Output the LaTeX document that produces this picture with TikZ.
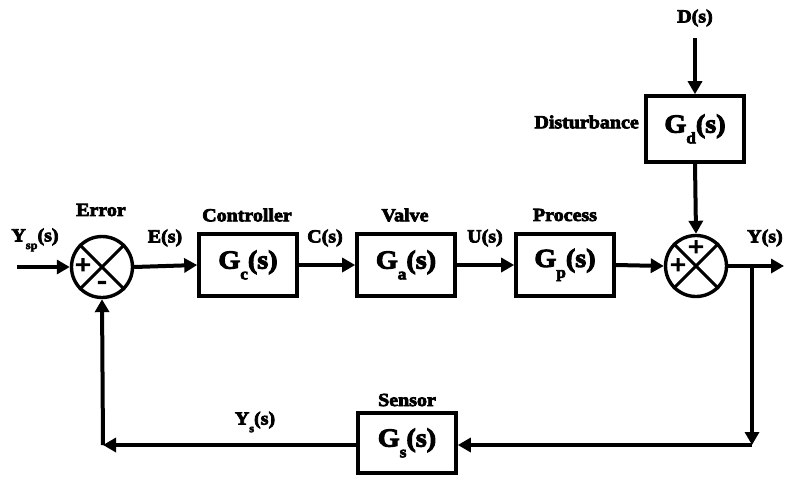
\documentclass[tikz,border=0pt]{standalone}
\usepackage{fontspec}
\setmainfont{Liberation Serif}[BoldFeatures={FakeStretch=1.08,FakeBold=4}]
\usetikzlibrary{arrows.meta}
\newcommand\labfont{\fontsize{18.5}{19}\selectfont\bfseries}
\newcommand\blkfont{\fontsize{26}{27}\selectfont\bfseries}
\newcommand\sbx[1]{\raisebox{-0.9ex}{\scalebox{0.62}{#1}}}
\tikzset{
  blk/.style={draw, line width=3.6pt, minimum width=98pt, minimum height=62pt, inner sep=0pt, font=\blkfont},
  sumj/.style={draw, circle, line width=3.4pt, minimum size=61pt, inner sep=0pt},
  lbl/.style={font=\labfont, inner sep=0pt},
  conn/.style={line width=4pt, -{Triangle[length=13pt,width=14pt]}},
  sgn/.style={font=\fontsize{26}{27}\selectfont\bfseries, inner sep=0pt}
}
\begin{document}
\begin{tikzpicture}[x=1pt,y=-1pt]
\useasboundingbox (0,0) rectangle (786,479);
% summing junctions
\node[sumj] (s1) at (102,267) {};
\draw[line width=3pt] (s1.north west) -- (s1.south east) (s1.north east) -- (s1.south west);
\node[sgn] (p1) at (83,266) {+};
\node[sgn] (m1) at (102,285) {-};
\node[sumj] (s2) at (696,266) {};
\draw[line width=3pt] (s2.north west) -- (s2.south east) (s2.north east) -- (s2.south west);
\node[sgn] (p2) at (696,248) {+};
\node[sgn] (p3) at (678,266) {+};
% blocks
\node[blk] (gc) at (248,265) {G\sbx{c}(s)};
\node[blk] (ga) at (406,265) {G\sbx{a}(s)};
\node[blk] (gp) at (565,265) {G\sbx{p}(s)};
\node[blk, minimum height=66pt] (gd) at (695,129) {G\sbx{d}(s)};
\node[blk, minimum height=60pt] (gs) at (407,443) {G\sbx{s}(s)};
% labels
\node[lbl] (lysp) at (35,240) {Y\sbx{sp}(s)};
\node[lbl] (lerr) at (101,210) {Error};
\node[lbl] (les) at (165,238) {E(s)};
\node[lbl] (lctl) at (247,215) {Controller};
\node[lbl] (lcs) at (325,238) {C(s)};
\node[lbl] (lval) at (405,215) {Valve};
\node[lbl] (lus) at (485,238) {U(s)};
\node[lbl] (lpro) at (565,215) {Process};
\node[lbl] (lys) at (765,238) {Y(s)};
\node[lbl] (lds) at (695,18) {D(s)};
\node[lbl, anchor=east] (ldis) at (639,122) {Disturbance};
\node[lbl] (lsen) at (407,400) {Sensor};
\node[lbl] (lyss) at (255,422) {Y\sbx{s}(s)};
% coordinates
\coordinate (in) at (17,267);
\coordinate (dtop) at (695,38);
\coordinate (br) at (752,266);
\coordinate (out) at (784,266);
\coordinate (c1) at (752,445);
\coordinate (c2) at (103,445);
% connectors
\draw[conn] (in) -- (s1.west);
\draw[conn] (s1.east) -- (gc.west);
\draw[conn] (gc.east) -- (ga.west);
\draw[conn] (ga.east) -- (gp.west);
\draw[conn] (gp.east) -- (s2.west);
\draw[conn] (dtop) -- (gd.north);
\draw[conn] (gd.south) -- (s2.north);
\draw[conn] (s2.east) -- (out);
\draw[conn] (br) -- (c1);
\draw[conn] (c1) -- (c1 -| gs.east);
\draw[conn] (c2 -| gs.west) -- (c2);
\draw[conn] (c2) -- (s1.south);
\end{tikzpicture}
\end{document}
